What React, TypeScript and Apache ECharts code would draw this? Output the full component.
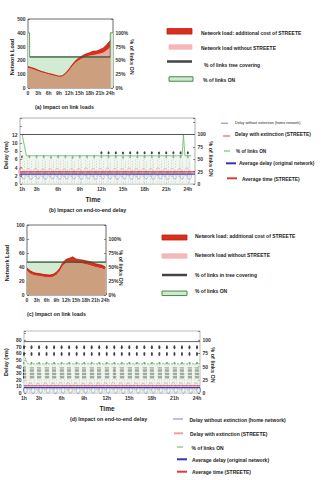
import React, { useEffect, useRef } from "react";
import * as echarts from "echarts";

const FONT = "Liberation Sans, Arial, Helvetica, sans-serif";

// ---------- (a) link loads, network 1 ----------
const HOURS_A = [0, 1, 2, 3, 4, 5, 6, 7, 8, 9, 10, 11, 12, 13, 14, 15, 16, 17, 18, 19, 20, 21, 22, 23, 24];
const LOAD_A = [145, 140, 130, 121, 113, 106, 99, 93, 87, 81, 83, 100, 127, 160, 186, 203, 218, 228, 236, 240, 244, 250, 258, 275, 295];
const EXTRA_A = [10, 8, 10, 8, 7, 7, 6, 7, 6, 5, 6, 8, 10, 12, 15, 17, 18, 20, 20, 26, 24, 28, 32, 40, 48];
const ON_A_X = [0, 0.45, 0.5, 23.95, 24, 24.8];
const ON_A_PCT = [100, 100, 56.25, 56.25, 100, 100];
const TREE_A = 225;

// ---------- (c) link loads, network 2 ----------
const HOURS_C = [0, 1, 2, 3, 4, 5, 6, 7, 8, 9, 10, 11, 12, 13, 14, 15, 16, 17, 18, 19, 20, 21, 22, 23, 24];
const LOAD_C = [34.5, 30.5, 28.5, 27.5, 27, 26, 25.5, 25, 26, 28.5, 34, 42, 46, 47, 47, 46, 45.5, 45, 44, 43, 41.5, 40, 39, 38, 36];
const EXTRA_C = [4, 4, 3.5, 3.5, 3.5, 3.5, 3.5, 3.5, 3.5, 4, 4, 4.5, 5, 5.5, 7.5, 5.5, 5, 5, 5, 5, 5, 4.5, 4.5, 4.5, 4];
const ON_C_PCT = 58.75;
const TREE_C = 47;

// ---------- (b) end-to-end delay, network 1 ----------
const HOURS_B = [1, 2, 3, 4, 5, 6, 7, 8, 9, 10, 11, 12, 13, 14, 15, 16, 17, 18, 19, 20, 21, 22, 23, 24];
const RED_OVAL_B = [2.9, 2.8, 2.8, 2.7, 2.8, 2.8, 2.7, 2.8, 2.8, 2.9, 2.8, 2.8, 2.9, 2.8, 2.8, 2.9, 2.8, 2.8, 2.8, 2.9, 2.8, 2.8, 2.8, 2.9];
const BLUE_OVAL_B = [2.1, 2.0, 2.1, 2.0, 2.1, 2.0, 2.1, 2.1, 2.0, 2.1, 2.0, 2.1, 2.1, 2.0, 2.1, 2.0, 2.1, 2.1, 2.0, 2.1, 2.0, 2.1, 2.1, 2.0];
const BLACK_LOW_B = [6.6, 6.6, 6.6, 6.6, 6.5, 6.6, 6.6, 6.5, 6.6, 6.6, 6.6, 6.6, 6.6, 6.6, 6.5, 6.6, 6.6, 6.6, 6.6, 6.6, 6.6, 6.6, 6.6, 6.6];
const BLACK_HIGH_B_HOURS = [12, 13, 14, 15, 16, 17, 18, 19, 20, 21, 22, 23, 24];
const BLACK_HIGH_B = [7.6, 7.6, 7.6, 7.5, 7.6, 7.6, 7.6, 7.6, 7.5, 7.6, 7.6, 7.6, 7.6];
const ORIG_RANGE_B = [0.3, 5.6];
const STRE_RANGE_B = [0.4, 6.3];
const ON_RANGE_B = [0, 6.6];
const ON_B_X = [1, 1.6, 23.2, 23.4, 23.6, 24.5];
const ON_B_PCT = [100, 57, 57, 100, 57, 57];
const TREE_B_PCT = 100;
const AVG_ORIG_B = 2.4;
const AVG_STRE_B = 2.95;

// ---------- (d) end-to-end delay, network 2 ----------
const HOURS_D = [1, 2, 3, 4, 5, 6, 7, 8, 9, 10, 11, 12, 13, 14, 15, 16, 17, 18, 19, 20, 21, 22, 23, 24];
const RED_OVAL_D = [10, 10, 9.5, 10, 10, 10.5, 10, 10, 9.5, 10, 10, 10, 10.5, 10, 10, 10, 9.5, 10, 10, 10, 10.5, 10, 10, 10];
const BLUE_OVAL_D = [4.5, 4, 4.5, 4.5, 4, 4.5, 4.5, 4, 4.5, 4.5, 4, 4.5, 4.5, 4, 4.5, 4.5, 4, 4.5, 4.5, 4, 4.5, 4.5, 4, 4.5];
const BLACK_TOP_D = [69, 69, 69, 69, 69, 69, 69, 69, 69, 69, 69, 69, 69, 69, 69, 69, 69, 69, 69, 69, 69, 69, 69, 69];
const BLACK_MID_D = [59, 59, 59, 59, 59, 59, 59, 59, 59, 59, 59, 59, 59, 59, 59, 59, 59, 59, 59, 59, 59, 59, 59, 59];
const BAR_RANGE_D = [22, 39];
const ORIG_RANGE_D = [0.5, 30];
const STRE_RANGE_D = [1, 45];
const ON_STAR_D = 45;
const ON_D_X = [1, 1.5, 24.4];
const ON_D_PCT = [72, 55, 55];
const TREE_D_PCT = 97;
const AVG_ORIG_D = 8;
const AVG_STRE_D = 11;

const TICKS_DELAY = [1, 3, 6, 9, 12, 15, 18, 21, 24];

const ELLIPSE = "path://M10,0 A10,10 0 1,1 10,20 A10,10 0 1,1 10,0 Z";

const lbl = (extra: any) => ({
  fontSize: 5,
  color: "#333",
  fontWeight: "bold",
  fontFamily: FONT,
  margin: 2.5,
  ...extra,
});

function xAx(gridIndex: number, min: number, max: number, interval: number, fmt: (v: number) => string, custom?: number[]) {
  const tick: any = { show: true, inside: true, length: 2, lineStyle: { color: "#444", width: 0.6 } };
  const label: any = lbl({ formatter: fmt });
  if (custom) {
    tick.customValues = custom;
    label.customValues = custom;
  }
  return {
    type: "value",
    gridIndex,
    min,
    max,
    interval,
    axisLine: { show: false },
    splitLine: { show: false },
    axisTick: tick,
    axisLabel: label,
  };
}

function yAx(gridIndex: number, position: string, min: number, max: number, interval: number, fmt: (v: number) => string) {
  return {
    type: "value",
    gridIndex,
    position,
    min,
    max,
    interval,
    axisLine: { show: false },
    splitLine: { show: false },
    axisTick: { show: true, inside: true, length: 2, lineStyle: { color: "#444", width: 0.6 } },
    axisLabel: lbl({ formatter: fmt }),
  };
}

const hFmt0 = (lim: number) => (v: number) => (v > lim + 0.01 ? "" : v === 0 ? "0" : v + "h");
const hFmt = (v: number) => v + "h";
const pctFmt = (v: number) => (v > 100.01 ? "" : v + "%");
const numFmt = (lim: number) => (v: number) => (v > lim + 0.01 ? "" : String(v));

function vSegs(xs: number[], off: number, range: number[]) {
  return xs.map((h) => ({ coords: [[h + off, range[0]], [h + off, range[1]]] }));
}

function lineSeries(xi: number, yi: number, data: any[], color: string, width: number, extra: any = {}) {
  return {
    type: "line",
    xAxisIndex: xi,
    yAxisIndex: yi,
    data,
    symbol: "none",
    lineStyle: { color, width },
    silent: true,
    ...extra,
  };
}

function segSeries(xi: number, yi: number, data: any[], color: string, width: number, dash: any) {
  return {
    type: "lines",
    coordinateSystem: "cartesian2d",
    xAxisIndex: xi,
    yAxisIndex: yi,
    data,
    silent: true,
    lineStyle: { color, width, type: dash, opacity: 1 },
  };
}

function scatter(xi: number, yi: number, data: any[], size: number[], style: any, symbol = ELLIPSE) {
  return {
    type: "scatter",
    xAxisIndex: xi,
    yAxisIndex: yi,
    data,
    symbol,
    symbolSize: size,
    silent: true,
    itemStyle: style,
  };
}

function loadSeries(xi: number, yi: number, hours: number[], load: number[], extra: number[], tree: number) {
  return [
    lineSeries(xi, yi, hours.map((h, i) => [h, load[i] + extra[i]]), "#b5160e", 0.8, {
      areaStyle: { color: "#d9301e", opacity: 1 },
    }),
    lineSeries(xi, yi, hours.map((h, i) => [h, load[i]]), "#f2a6a3", 0, {
      areaStyle: { color: "#f2a6a3", opacity: 1 },
    }),
    lineSeries(xi, yi, hours.map((h, i) => [h, Math.min(load[i], tree)]), "#cc9f7f", 0, {
      areaStyle: { color: "#cc9f7f", opacity: 1 },
    }),
  ];
}

function txt(x: number, y: number, text: string, size: number, weight = "bold", align = "left", rotation = 0) {
  return {
    type: "text",
    x,
    y,
    rotation,
    silent: true,
    style: {
      text,
      fontSize: size,
      fontWeight: weight,
      fontFamily: FONT,
      fill: "#222",
      align,
      verticalAlign: "middle",
    },
  };
}

function lRect(x1: number, x2: number, y: number, h: number, fill: string, stroke: string, lw = 0.8) {
  return {
    type: "rect",
    silent: true,
    shape: { x: x1, y: y - h / 2, width: x2 - x1, height: h },
    style: { fill, stroke, lineWidth: lw },
  };
}

function lLine(x1: number, x2: number, y: number, color: string, width: number) {
  return {
    type: "line",
    silent: true,
    shape: { x1, y1: y, x2, y2: y },
    style: { stroke: color, lineWidth: width },
  };
}

function buildOption() {
  const grids = [
    { left: 28, top: 19, width: 85, height: 69, borderColor: "#444" },
    { left: 20, top: 118, width: 175, height: 66, borderColor: "#999" },
    { left: 27, top: 225, width: 79, height: 70, borderColor: "#444" },
    { left: 24, top: 331, width: 176, height: 62, borderColor: "#aaa" },
  ].map((g) => ({ ...g, show: true, borderWidth: 0.8, backgroundColor: "transparent", containLabel: false }));

  const xAxis = [
    xAx(0, 0, 24.8, 3, hFmt0(24)),
    xAx(1, 0.7, 25, 3, hFmt, TICKS_DELAY),
    xAx(2, 0, 24.2, 3, hFmt0(24)),
    xAx(3, 1, 24.4, 3, hFmt, TICKS_DELAY),
  ];

  const yAxis = [
    yAx(0, "left", 0, 500, 100, numFmt(500)),
    yAx(0, "right", 0, 125, 25, pctFmt),
    yAx(1, "left", 0, 16, 2, numFmt(12)),
    yAx(1, "right", 0, 133.33, 25, (v) => (v > 100.01 ? "" : String(v))),
    yAx(2, "left", 0, 100, 20, numFmt(100)),
    yAx(2, "right", 0, 125, 25, pctFmt),
    yAx(3, "left", 0, 93.6, 10, numFmt(80)),
    yAx(3, "right", 0, 117, 25, (v) => (v > 100.01 ? "" : String(v))),
  ];

  const series: any[] = [];

  // (a)
  series.push(
    lineSeries(0, 1, ON_A_X.map((x, i) => [x, ON_A_PCT[i]]), "#4b8b4b", 0.8, {
      areaStyle: { color: "#d3ebd3", opacity: 1 },
    })
  );
  series.push(...loadSeries(0, 0, HOURS_A, LOAD_A, EXTRA_A, TREE_A));
  series.push(lineSeries(0, 0, [[0.5, TREE_A], [24, TREE_A]], "#2f4f2f", 1));

  // (c)
  series.push(
    lineSeries(2, 5, [[0, ON_C_PCT], [24.2, ON_C_PCT]], "#4b8b4b", 0.8, {
      areaStyle: { color: "#d3ebd3", opacity: 1 },
    })
  );
  series.push(...loadSeries(2, 4, HOURS_C, LOAD_C, EXTRA_C, TREE_C));
  series.push(lineSeries(2, 4, [[0, TREE_C], [24.2, TREE_C]], "#2f4f2f", 1));

  // (b)
  series.push(
    lineSeries(1, 3, ON_B_X.map((x, i) => [x, ON_B_PCT[i]]), "#6cb46c", 0.8, {
      areaStyle: { color: "#e4f2e4", opacity: 0.6 },
    })
  );
  series.push(segSeries(1, 2, vSegs(HOURS_B, 0, ON_RANGE_B), "#a9d8a9", 0.7, [1.5, 1.5]));
  series.push(segSeries(1, 2, vSegs(HOURS_B, -0.25, STRE_RANGE_B), "#ee9a9a", 0.8, [1.5, 1.5]));
  series.push(segSeries(1, 2, vSegs(HOURS_B, 0.25, ORIG_RANGE_B), "#9a96dc", 0.8, [1.5, 1.5]));
  series.push(lineSeries(1, 3, [[0.7, TREE_B_PCT], [25, TREE_B_PCT]], "#555", 1));
  series.push(
    scatter(1, 2, HOURS_B.map((h, i) => [h - 0.15, RED_OVAL_B[i]]), [4.5, 8], {
      color: "rgba(0,0,0,0)",
      borderColor: "#e05050",
      borderWidth: 0.8,
    })
  );
  series.push(
    scatter(1, 2, HOURS_B.map((h, i) => [h + 0.2, BLUE_OVAL_B[i]]), [4, 7], {
      color: "rgba(0,0,0,0)",
      borderColor: "#5555cc",
      borderWidth: 0.8,
    })
  );
  series.push(lineSeries(1, 2, [[0.7, AVG_ORIG_B], [25, AVG_ORIG_B]], "#3a3ab0", 1.4));
  series.push(lineSeries(1, 2, [[0.7, AVG_STRE_B], [25, AVG_STRE_B]], "#e03030", 1.1));
  series.push(scatter(1, 2, HOURS_B.map((h, i) => [h, BLACK_LOW_B[i]]), [2, 3], { color: "#111" }));
  series.push(scatter(1, 2, BLACK_HIGH_B_HOURS.map((h, i) => [h, BLACK_HIGH_B[i]]), [2, 3], { color: "#111" }));

  // (d)
  series.push(
    lineSeries(3, 7, ON_D_X.map((x, i) => [x, ON_D_PCT[i]]), "#6cb46c", 0.8, {
      areaStyle: { color: "#e2f1e2", opacity: 0.6 },
      lineStyle: { color: "#6cb46c", width: 0.8, type: [2, 1] },
    })
  );
  series.push(segSeries(3, 6, vSegs(HOURS_D, 0, [0, ON_STAR_D]), "#a9d8a9", 0.7, [1.5, 1.5]));
  series.push(segSeries(3, 6, vSegs(HOURS_D, -0.3, STRE_RANGE_D), "#ee9a9a", 0.8, [1.5, 1.5]));
  series.push(segSeries(3, 6, vSegs(HOURS_D, 0.3, ORIG_RANGE_D), "#9a96dc", 0.8, [1.5, 1.5]));
  series.push(lineSeries(3, 7, [[1, TREE_D_PCT], [24.4, TREE_D_PCT]], "#666", 1));
  series.push(segSeries(3, 6, vSegs(HOURS_D, -0.13, BAR_RANGE_D), "#151515", 1.6, [2.5, 0.8]));
  series.push(segSeries(3, 6, vSegs(HOURS_D, 0.13, BAR_RANGE_D), "#151515", 1.6, [2.5, 0.8]));
  series.push(
    scatter(3, 6, HOURS_D.map((h, i) => [h - 0.15, RED_OVAL_D[i]]), [4, 7], {
      color: "rgba(0,0,0,0)",
      borderColor: "#e05050",
      borderWidth: 0.8,
    })
  );
  series.push(
    scatter(3, 6, HOURS_D.map((h, i) => [h + 0.2, BLUE_OVAL_D[i]]), [4, 6], {
      color: "rgba(0,0,0,0)",
      borderColor: "#5555cc",
      borderWidth: 0.8,
    })
  );
  series.push(lineSeries(3, 6, [[1, AVG_ORIG_D], [24.4, AVG_ORIG_D]], "#3a3ab0", 1.3));
  series.push(lineSeries(3, 6, [[1, AVG_STRE_D], [24.4, AVG_STRE_D]], "#e0406a", 1.1));
  series.push(scatter(3, 6, HOURS_D.map((h, i) => [h, BLACK_TOP_D[i]]), [2, 4], { color: "#111" }));
  series.push(scatter(3, 6, HOURS_D.map((h, i) => [h, BLACK_MID_D[i]]), [2, 4], { color: "#111" }));
  series.push(scatter(3, 6, HOURS_D.map((h) => [h, ON_STAR_D]), [2, 2], { color: "#3a8a3a" }, "circle"));

  const R = Math.PI / 2;
  const graphic: any[] = [
    // axis titles
    txt(12, 57, "Network Load", 5.5, "bold", "center", R),
    txt(132, 57, "% of links ON", 5.5, "bold", "center", -R),
    txt(5.5, 155, "Delay (ms)", 5.5, "bold", "center", R),
    txt(211, 159, "% of links ON", 5.5, "bold", "center", -R),
    txt(7, 263, "Network Load", 5.5, "bold", "center", R),
    txt(121, 268, "% of links ON", 5.5, "bold", "center", -R),
    txt(5.5, 362, "Delay (ms)", 5.5, "bold", "center", R),
    txt(213, 365, "% of links ON", 5.5, "bold", "center", -R),
    // captions
    txt(35, 107, "(a) Impact on link loads", 5.3),
    txt(93, 199, "Time", 6.5, "bold", "center"),
    txt(49, 209.5, "(b) Impact on end-to-end delay", 5.3),
    txt(27, 314, "(c) Impact on link loads", 5.3),
    txt(107, 408, "Time", 6.5, "bold", "center"),
    txt(70, 419, "(d) Impact on end-to-end delay", 5.3),
    // legend (a)
    lRect(167, 192, 31.3, 5.5, "#d9301e", "#c01a10"),
    txt(201, 33, "Network load: additional cost of STREETE", 5),
    lRect(169, 192, 47, 4.5, "#f4b8b8", "#f4b8b8"),
    txt(201, 47.5, "Network load without STREETE", 5),
    lLine(167, 192, 61.5, "#444", 2.5),
    txt(204, 65, "% of links tree covering", 5),
    lRect(169, 193, 79, 4.5, "#cfe8cf", "#4a8a4a", 1),
    txt(203, 80, "% of links ON", 5),
    // legend (b)
    lLine(221, 228, 123.3, "#a9a6e0", 1.5),
    txt(235, 123.3, "Delay without extinction (home network)", 3.7, "normal"),
    lLine(223, 230, 136, "#f0a0a0", 2),
    txt(235, 134, "Delay with extinction (STREETE)", 4.9),
    lLine(224, 230, 151, "#7fbf7f", 1.2),
    txt(236, 151, "% of links ON", 4.7),
    lLine(226, 236, 163.3, "#3434b4", 2),
    txt(239, 163, "Average delay (original network)", 4.9),
    lLine(227, 237, 178.3, "#e03a3a", 2),
    txt(242, 179, "Average time (STREETE)", 4.9),
    // legend (c)
    lRect(162, 187, 237.5, 5, "#d9301e", "#c01a10"),
    txt(195, 236, "Network load: additional cost of STREETE", 5),
    lRect(162, 187, 256, 4.5, "#f4b8b8", "#f4b8b8"),
    txt(195, 255, "Network load without STREETE", 5),
    lLine(162, 187, 275, "#444", 2.5),
    txt(195, 274.5, "% of links in tree covering", 5),
    lRect(162, 187, 293.3, 4.5, "#cfe8cf", "#4a8a4a", 1),
    txt(195, 291, "% of links ON", 5),
    // legend (d)
    lLine(173, 183, 419, "#a9a6e0", 1.5),
    txt(189.5, 420, "Delay without extinction (home network)", 5),
    lLine(174, 183, 433.3, "#f0a0a0", 2),
    txt(190, 434, "Delay with extinction (STREETE)", 5),
    lLine(177, 183, 447, "#7fbf7f", 1.2),
    txt(191.5, 448, "% of links ON", 5),
    lLine(177, 187, 459.3, "#3434b4", 2),
    txt(192, 460, "Average delay (original network)", 5),
    lLine(177, 187, 471.7, "#e03a3a", 2),
    txt(192, 472, "Average time (STREETE)", 5),
  ];

  return {
    animation: false,
    backgroundColor: "#ffffff",
    textStyle: { fontFamily: FONT },
    grid: grids,
    xAxis,
    yAxis,
    series,
    graphic,
  };
}

export default function App() {
  const ref = useRef<HTMLDivElement>(null);
  useEffect(() => {
    if (!ref.current) return;
    const chart = echarts.init(ref.current, undefined, { renderer: "svg" });
    chart.setOption(buildOption() as any);
    return () => chart.dispose();
  }, []);
  return (
    <div
      ref={ref}
      style={{ position: "fixed", left: 0, top: 0, width: 323, height: 480, background: "#fff" }}
    />
  );
}
